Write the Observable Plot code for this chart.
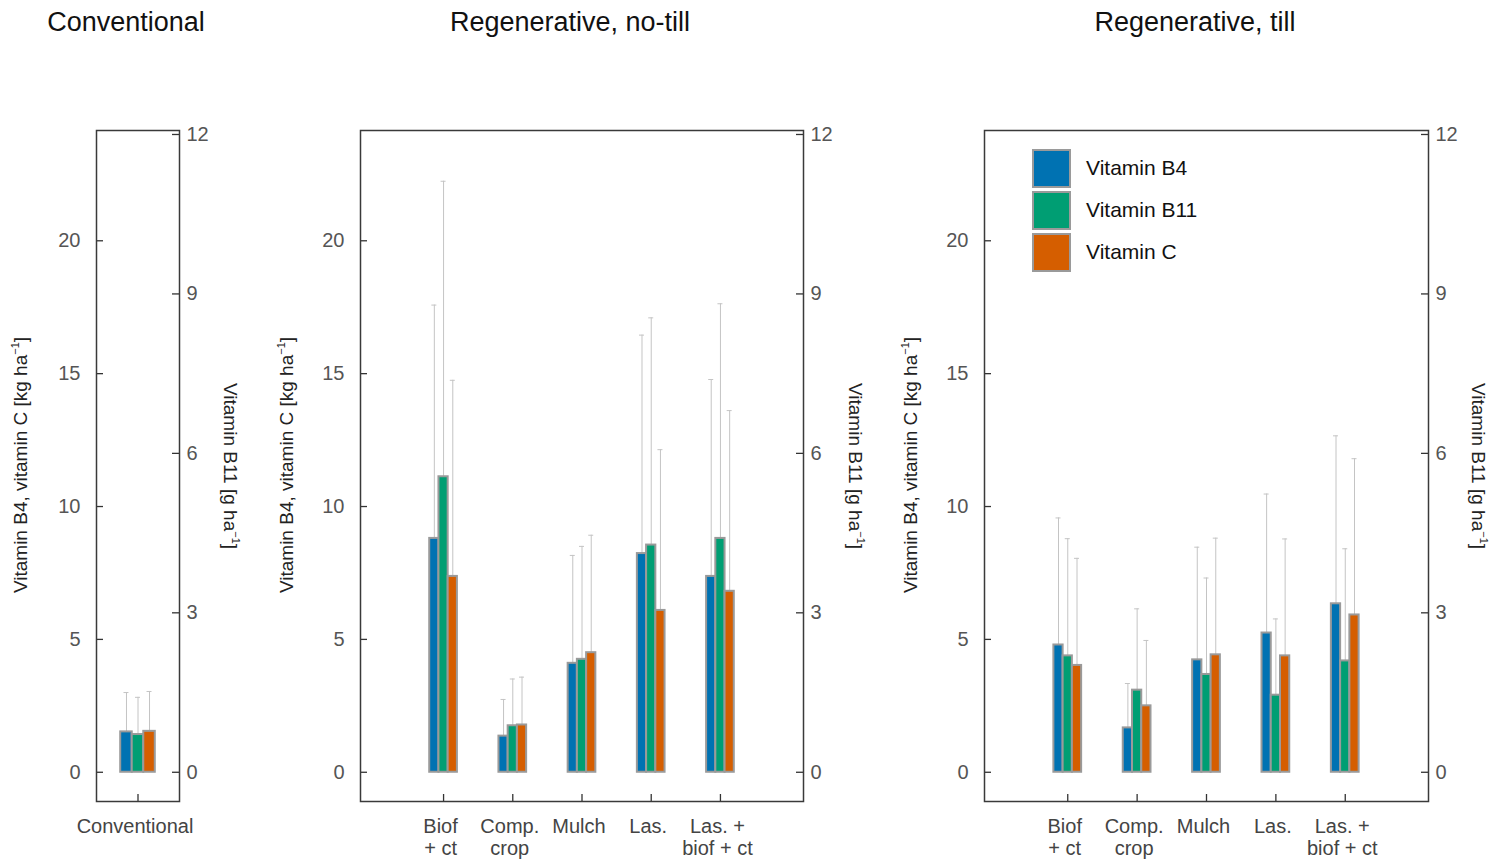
<!DOCTYPE html>
<html>
<head>
<meta charset="utf-8">
<script src="https://cdn.jsdelivr.net/npm/d3@7"></script>
<script src="https://cdn.jsdelivr.net/npm/@observablehq/plot@0.6"></script>
<style>
  body { margin: 0; background: #fff; font-family: "Liberation Sans", Arial, sans-serif; }
  #wrap { position: relative; width: 1496px; height: 861px; overflow: hidden; background: #fff; }
  .panel { position: absolute; top: 0; }
  .title { position: absolute; top: 7px; width: 400px; text-align: center; font-size: 27px; line-height: 30px; color: #111; }
  .ylab { position: absolute; white-space: nowrap; font-size: 19px; line-height: 20px; color: #222; }
  .ylab sup { font-size: 11px; vertical-align: 8px; line-height: 0; }
  .legend { position: absolute; }
  .legrow { display: flex; align-items: center; height: 42px; }
  .legbox { width: 35px; height: 35px; border: 2px solid #9a9a9a; }
  .legtxt { margin-left: 15px; font-size: 21px; color: #111; }
</style>
</head>
<body>
<div id="wrap"></div>
<script>
// ---------- data ----------
const seriesNames = ["Vitamin B4", "Vitamin B11", "Vitamin C"];
const seriesColors = ["#0072B2", "#009E73", "#D55E00"];
const panelTitles = ["Conventional", "Regenerative, no-till", "Regenerative, till"];
const leftTicks = [0, 5, 10, 15, 20];      // kg/ha (B4, C)
const rightTicks = [0, 3, 6, 9, 12];       // g/ha (B11)
const leftAxisMax = 24, rightAxisMax = 12; // the two axes are aligned: 24 kg/ha <-> 12 g/ha
const yDomain = [-1.1, 24.15];

const convCategories = ["Conventional"];
const convB4 = [1.52],  convB4Sd = [1.48];   // kg/ha
const convB11 = [0.71], convB11Sd = [0.70];  // g/ha
const convC = [1.54],   convCSd = [1.50];    // kg/ha

const regenCategories = ["Biof\n+ ct", "Comp.\ncrop", "Mulch", "Las.", "Las. +\nbiof + ct"];

const noTillB4 = [8.80, 1.36, 4.10, 8.23, 7.37];
const noTillB4Sd = [8.78, 1.38, 4.06, 8.22, 7.41];
const noTillB11 = [5.56, 0.875, 2.125, 4.275, 4.40];
const noTillB11Sd = [5.56, 0.88, 2.125, 4.275, 4.415];
const noTillC = [7.37, 1.78, 4.50, 6.09, 6.81];
const noTillCSd = [7.38, 1.80, 4.42, 6.05, 6.80];

const tillB4 = [4.79, 1.67, 4.23, 5.24, 6.34];
const tillB4Sd = [4.78, 1.67, 4.24, 5.23, 6.32];
const tillB11 = [2.19, 1.545, 1.84, 1.45, 2.095];
const tillB11Sd = [2.205, 1.53, 1.815, 1.435, 2.11];
const tillC = [4.02, 2.50, 4.42, 4.38, 5.92];
const tillCSd = [4.03, 2.46, 4.39, 4.40, 5.88];

// ---------- drawing ----------
const H = 861, MT = 130, MB = 60;
const ratio = leftAxisMax / rightAxisMax;
const wrap = document.getElementById("wrap");

function makePanel({categories, series, left, width, marginLeft, marginRight, xDomain, groupWidth}) {
  const n = seriesNames.length;
  const bw = groupWidth / n;
  const rows = [];
  categories.forEach((cat, i) => {
    series.forEach(([vals, sds, k], s) => {
      const xc = i + 1 + (s - (n - 1) / 2) * bw;
      rows.push({series: seriesNames[s], x1: xc - bw / 2, x2: xc + bw / 2, xc,
                 y: vals[i] * k, top: (vals[i] + sds[i]) * k});
    });
  });
  const frameW = width - marginLeft - marginRight;
  const frameH = H - MT - MB;
  const capHalf = 2.5 * (xDomain[1] - xDomain[0]) / frameW;
  const tickStyle = {stroke: "#333", strokeWidth: 1.3};
  const p = Plot.plot({
    width, height: H, marginTop: MT, marginBottom: MB, marginLeft, marginRight,
    x: {domain: xDomain, axis: null},
    y: {domain: yDomain, axis: null},
    color: {domain: seriesNames, range: seriesColors},
    style: {fontFamily: "'Liberation Sans', Arial, sans-serif", fontSize: "20px", background: "transparent", overflow: "visible"},
    marks: [
      Plot.ruleX(rows, {x: "xc", y1: "y", y2: "top", stroke: "#c4c4c4", strokeWidth: 1}),
      Plot.ruleY(rows, {y: "top", x1: d => d.xc - capHalf, x2: d => d.xc + capHalf, stroke: "#c4c4c4", strokeWidth: 1}),
      Plot.rect(rows, {x1: "x1", x2: "x2", y1: 0, y2: "y", fill: "series", stroke: "#9a9a9a", strokeWidth: 2}),
      Plot.tickY(leftTicks, {y: d => d, insetRight: frameW - 7, ...tickStyle}),
      Plot.tickY(rightTicks, {y: d => d * ratio, insetLeft: frameW - 7, ...tickStyle}),
      Plot.tickX(categories, {x: (d, i) => i + 1, insetTop: frameH - 7, ...tickStyle}),
      Plot.text(leftTicks, {y: d => d, text: d => String(d), frameAnchor: "left", textAnchor: "end", dx: -16, fill: "#555"}),
      Plot.text(rightTicks, {y: d => d * ratio, text: d => String(d), frameAnchor: "right", textAnchor: "start", dx: 7, fill: "#555"}),
      Plot.text(categories, {x: (d, i) => i + 1, text: d => d, frameAnchor: "bottom", lineAnchor: "top", dy: 16, dx: -3, lineHeight: 1.1, fill: "#444"}),
      Plot.frame({stroke: "#3a3a3a", strokeWidth: 1.5})
    ]
  });
  p.classList.add("panel");
  p.style.left = left + "px";
  wrap.appendChild(p);
}

makePanel({
  categories: convCategories,
  series: [[convB4, convB4Sd, 1], [convB11, convB11Sd, ratio], [convC, convCSd, 1]],
  left: 0, width: 260, marginLeft: 96, marginRight: 81, xDomain: [0.4, 1.6], groupWidth: 0.5
});
makePanel({
  categories: regenCategories,
  series: [[noTillB4, noTillB4Sd, 1], [noTillB11, noTillB11Sd, ratio], [noTillC, noTillCSd, 1]],
  left: 260, width: 620, marginLeft: 100, marginRight: 77, xDomain: [-0.2, 6.2], groupWidth: 0.4
});
makePanel({
  categories: regenCategories,
  series: [[tillB4, tillB4Sd, 1], [tillB11, tillB11Sd, ratio], [tillC, tillCSd, 1]],
  left: 880, width: 616, marginLeft: 104, marginRight: 68, xDomain: [-0.2, 6.2], groupWidth: 0.4
});

// titles
[126, 570, 1195].forEach((cx, i) => {
  const t = document.createElement("div");
  t.className = "title";
  t.style.left = (cx - 200) + "px";
  t.textContent = panelTitles[i];
  wrap.appendChild(t);
});

// axis labels
function ylab(html, cx, cy, rot) {
  const d = document.createElement("div");
  d.className = "ylab";
  d.innerHTML = html;
  d.style.left = cx + "px";
  d.style.top = cy + "px";
  d.style.transform = `translate(-50%, -50%) rotate(${rot}deg)`;
  wrap.appendChild(d);
}
const leftLabel = "Vitamin B4, vitamin C [kg ha<sup>−1</sup>]";
const rightLabel = "Vitamin B11 [g ha<sup>−1</sup>]";
[[21, 230], [287, 855], [911, 1478]].forEach(([lx, rx]) => {
  ylab(leftLabel, lx, 465, -90);
  ylab(rightLabel, rx, 466, 90);
});

// legend (inside the third panel)
const leg = document.createElement("div");
leg.className = "legend";
leg.style.left = "1032px";
leg.style.top = "147px";
seriesNames.forEach((name, i) => {
  const row = document.createElement("div");
  row.className = "legrow";
  const box = document.createElement("div");
  box.className = "legbox";
  box.style.background = seriesColors[i];
  const txt = document.createElement("div");
  txt.className = "legtxt";
  txt.textContent = name;
  row.appendChild(box); row.appendChild(txt);
  leg.appendChild(row);
});
wrap.appendChild(leg);
</script>
</body>
</html>
